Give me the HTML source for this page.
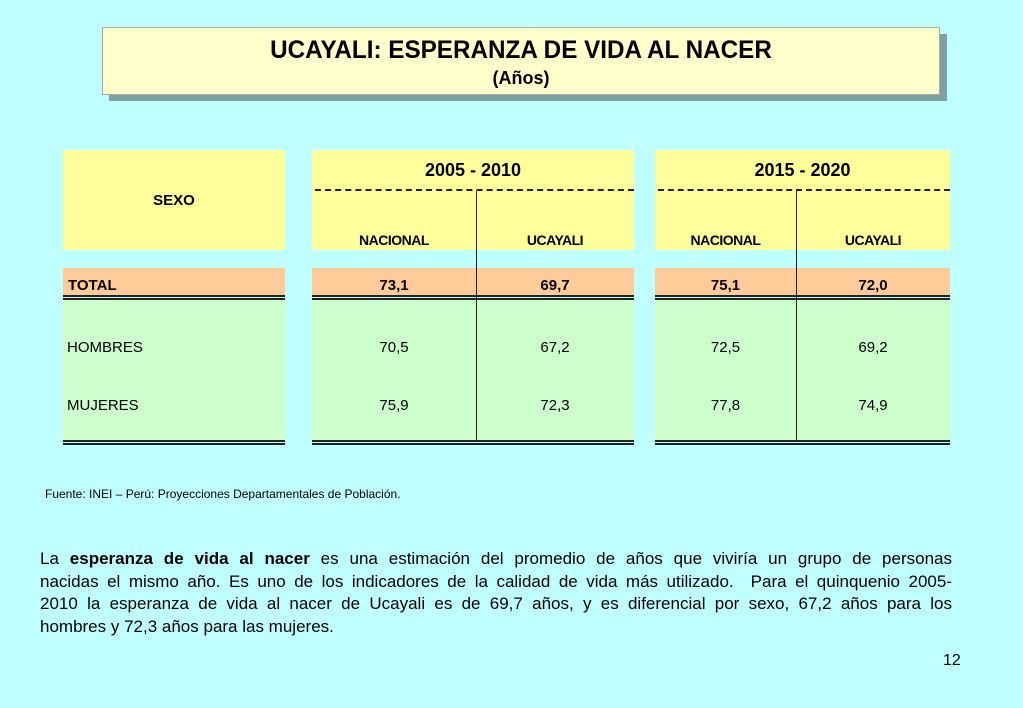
<!DOCTYPE html>
<html><head><meta charset="utf-8"><style>
body{margin:0;width:1023px;height:708px;background:#c0ffff;position:relative;overflow:hidden;font-family:"Liberation Sans",sans-serif;color:#000}
.a{position:absolute}
.t{position:absolute;text-align:center}
.y{background:#ffff9c}.s{background:#ffcc99}.g{background:#ccffcc}
.dl{position:absolute;height:5px;border-top:2px solid #222;border-bottom:2px solid #222;box-sizing:border-box}
.ln{text-align:justify;text-align-last:justify;white-space:nowrap}
.ln.last{text-align-last:left}
</style></head><body>
<div class="a" style="left:109px;top:34px;width:838px;height:67px;background:#7f9fa3"></div>
<div class="a" style="left:102px;top:27px;width:836px;height:66px;background:#ffffcc;border:1px solid #aaa">
<div class="t" style="left:0;right:0;top:8px;font-size:25px;font-weight:bold;transform:scaleX(.97)">UCAYALI: ESPERANZA DE VIDA AL NACER</div>
<div class="t" style="left:0;right:0;top:40px;font-size:18px;font-weight:bold">(Años)</div>
</div>

<div class="a y" style="left:63px;top:150px;width:222px;height:100px"></div>
<div class="t" style="left:63px;width:222px;top:192px;font-size:15px;font-weight:bold">SEXO</div>
<div class="a s" style="left:63px;top:268px;width:222px;height:29px"></div>
<div class="a" style="left:68px;top:277px;font-size:15px;font-weight:bold">TOTAL</div>
<div class="dl" style="left:63px;top:295px;width:222px"></div>
<div class="a g" style="left:63px;top:300px;width:222px;height:141px"></div>
<div class="a" style="left:67px;top:339px;font-size:15px">HOMBRES</div>
<div class="a" style="left:67px;top:397px;font-size:15px">MUJERES</div>
<div class="dl" style="left:63px;top:440px;width:222px"></div>

<div id="blocks"></div>

<div class="a" style="left:45px;top:487px;font-size:12px">Fuente: INEI – Perú: Proyecciones Departamentales de Población.</div>
<div class="a" style="left:40px;top:548px;width:912px;font-size:17px;line-height:22.5px">
<div class="ln">La <b>esperanza de vida al nacer</b> es una estimación del promedio de años que viviría un grupo de personas</div>
<div class="ln">nacidas el mismo año. Es uno de los indicadores de la calidad de vida más utilizado.&nbsp; Para el quinquenio 2005-</div>
<div class="ln">2010 la esperanza de vida al nacer de Ucayali es de 69,7 años, y es diferencial por sexo, 67,2 años para los</div>
<div class="ln last">hombres y 72,3 años para las mujeres.</div>
</div>
<div class="a" style="left:943px;top:652px;font-size:16px">12</div>

<script>
const periods=["2005 - 2010","2015 - 2020"];
const totals=[["73,1","69,7"],["75,1","72,0"]];
const hombres=[["70,5","67,2"],["72,5","69,2"]];
const mujeres=[["75,9","72,3"],["77,8","74,9"]];
const geo=[{x:312,w:322,d:476},{x:655,w:295,d:796}];
const root=document.getElementById('blocks');
function add(cls,style,text,name){const e=document.createElement('div');e.className=cls;e.style.cssText=style;if(text!==undefined)e.textContent=text;


root.appendChild(e);return e;}
periods.forEach((p,i)=>{const g=geo[i];const c1=g.x, w1=g.d-g.x, c2=g.d, w2=g.x+g.w-g.d;
add('a y',`left:${g.x}px;top:150px;width:${g.w}px;height:100px`,undefined,'period-header');
add('t',`left:${g.x}px;width:${g.w}px;top:160px;font-size:18px;font-weight:bold`,p,'period-label');
add('a',`left:${g.x+3}px;top:189px;width:${g.w-3}px;border-top:2px dashed #222`,undefined,'dashed-rule');
add('t',`left:${c1}px;width:${w1}px;top:232px;font-size:14px;font-weight:bold;letter-spacing:-.5px`,'NACIONAL','nacional-header');
add('t',`left:${c2}px;width:${w2}px;top:232px;font-size:14px;font-weight:bold;letter-spacing:-.5px`,'UCAYALI','ucayali-header');
add('a s',`left:${g.x}px;top:268px;width:${g.w}px;height:29px`,undefined,'total-row-bg');
add('a g',`left:${g.x}px;top:300px;width:${g.w}px;height:141px`,undefined,'rows-bg');
add('dl',`left:${g.x}px;top:295px;width:${g.w}px`,undefined,'rule');
add('dl',`left:${g.x}px;top:440px;width:${g.w}px`,undefined,'rule');
add('a',`left:${g.d}px;top:191px;width:1px;height:251px;background:#222`,undefined,'column-divider');
const cols=[[c1,w1],[c2,w2]];
cols.forEach((c,j)=>{
add('t',`left:${c[0]}px;width:${c[1]}px;top:277px;font-size:15px;font-weight:bold`,totals[i][j],'total-value');
add('t',`left:${c[0]}px;width:${c[1]}px;top:339px;font-size:15px`,hombres[i][j],'hombres-value');
add('t',`left:${c[0]}px;width:${c[1]}px;top:397px;font-size:15px`,mujeres[i][j],'mujeres-value');});
});
</script>
</body></html>
